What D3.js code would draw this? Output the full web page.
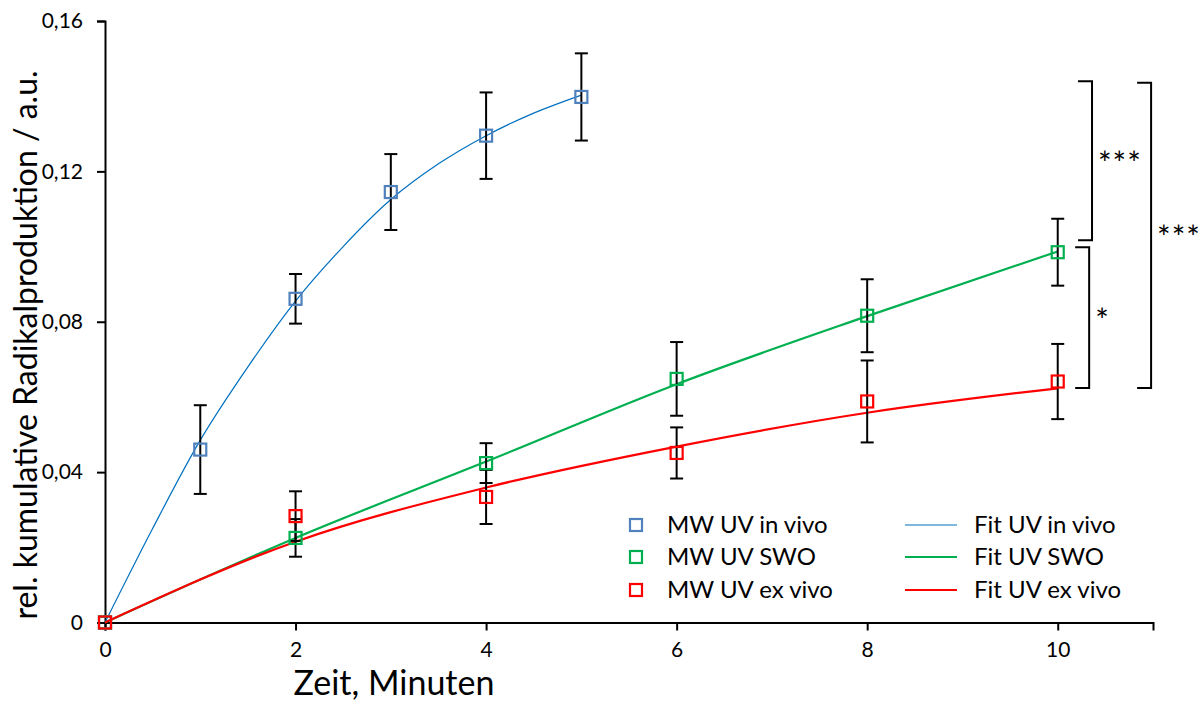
<!DOCTYPE html>
<html>
<head>
<meta charset="utf-8">
<script src="https://d3js.org/d3.v7.min.js"></script>
<style>
  body { margin: 0; background: #fff; }
  text { font-family: Lato, "Liberation Sans", sans-serif; fill: #000; }
</style>
</head>
<body>
<script>
var invivoT = [0, 1, 2, 3, 4, 5];
var invivoY = [0, 0.0460, 0.0861, 0.1145, 0.1295, 0.1398];
var invivoErr = [0, 0.0118, 0.0066, 0.0101, 0.0115, 0.0116];

var swoT = [0, 2, 4, 6, 8, 10];
var swoY = [0, 0.0225, 0.0424, 0.0648, 0.0816, 0.0985];
var swoErr = [0, 0.0050, 0.0053, 0.0098, 0.0097, 0.0089];

var exvivoT = [0, 2, 4, 6, 8, 10];
var exvivoY = [0, 0.0283, 0.0334, 0.0451, 0.0588, 0.0641];
var exvivoErr = [0, 0.0066, 0.0072, 0.0068, 0.0109, 0.0100];

// fit curves
var fitInvivoT = [0, 0.5, 1, 1.5, 2, 2.5, 3, 3.5, 4, 4.5, 5];
var fitInvivoY = [0, 0.0250, 0.0485, 0.0680, 0.0855, 0.1000, 0.1125, 0.1220, 0.1295, 0.1355, 0.1403];
var fitSwoT = [0, 2, 4, 6, 8, 10];
var fitSwoY = [0, 0.0225, 0.0428, 0.0634, 0.0815, 0.0987];
var fitExvivoT = [0, 2, 4, 6, 8, 10];
var fitExvivoY = [0, 0.0215, 0.0359, 0.0468, 0.0558, 0.0623];

var xTicks = [0, 2, 4, 6, 8, 10];
var yTicks = [0, 0.04, 0.08, 0.12, 0.16];
var yTickLabels = ["0", "0,04", "0,08", "0,12", "0,16"];

var markerLabels = ["MW UV in vivo", "MW UV SWO", "MW UV ex vivo"];
var fitLabels = ["Fit UV in vivo", "Fit UV SWO", "Fit UV ex vivo"];
var markerColors = ["#4F81BD", "#00B050", "#FF0000"];
var fitColors = ["#0070C0", "#00B050", "#FF0000"];
var fitWidths = [1.2, 2.2, 2.2];

// significance brackets: [top, bottom] in data units, label
var brackets = [
  {top: 0.1440, bottom: 0.1017, x: 10.36, label: "***"},
  {top: 0.0998, bottom: 0.0624, x: 10.33, label: "*"},
  {top: 0.1436, bottom: 0.0624, x: 10.98, label: "***"}
];

var w = 1202, h = 702;
var svg = d3.select("body").append("svg")
    .attr("width", w)
    .attr("height", h);

var x = d3.scaleLinear().domain([0, 11]).range([105, 1153]);
var y = d3.scaleLinear().domain([0, 0.16]).range([622.5, 21]);

// axes
var xAxis = svg.append("g")
    .attr("transform", "translate(0," + y(0) + ")")
    .call(d3.axisBottom(x).tickValues(xTicks).tickSize(8).tickPadding(12).tickFormat(d3.format("d")));
var yAxis = svg.append("g")
    .attr("transform", "translate(" + x(0) + ",0)")
    .call(d3.axisLeft(y).tickValues(yTicks).tickSize(8).tickPadding(14)
      .tickFormat(function(d, i) { return yTickLabels[i]; }));
[xAxis, yAxis].forEach(function(g) {
  g.select(".domain").attr("stroke", "#000").attr("stroke-width", 2);
  g.selectAll(".tick line").attr("stroke", "#000").attr("stroke-width", 2);
  g.selectAll(".tick text").attr("font-family", "Lato").attr("font-size", 21).attr("fill", "#000");
});

// axis titles
svg.append("text")
    .attr("x", 394).attr("y", 695)
    .attr("text-anchor", "middle")
    .attr("font-size", 34)
    .text("Zeit, Minuten");
svg.append("text")
    .attr("transform", "translate(37," + 345 + ") rotate(-90)")
    .attr("text-anchor", "middle")
    .attr("font-size", 32)
    .text("rel. kumulative Radikalproduktion / a.u.");

// fit lines
var line = d3.line()
    .x(function(d) { return x(d[0]); })
    .y(function(d) { return y(d[1]); })
    .curve(d3.curveMonotoneX);
var fits = [
  d3.zip(fitInvivoT, fitInvivoY),
  d3.zip(fitSwoT, fitSwoY),
  d3.zip(fitExvivoT, fitExvivoY)
];
fits.forEach(function(pts, i) {
  svg.append("path")
      .datum(pts)
      .attr("d", line)
      .attr("fill", "none")
      .attr("stroke", fitColors[i])
      .attr("stroke-width", fitWidths[i]);
});

// error bars + markers
var series = [
  {t: invivoT, v: invivoY, e: invivoErr},
  {t: swoT, v: swoY, e: swoErr},
  {t: exvivoT, v: exvivoY, e: exvivoErr}
];
var cap = 6.5;
series.forEach(function(s, si) {
  var pts = s.t.map(function(t, i) { return {t: t, v: s.v[i], e: s.e[i]}; })
      .filter(function(d) { return d.e > 0; });
  var g = svg.append("g").attr("stroke", "#000").attr("stroke-width", 2);
  g.selectAll("line.v").data(pts).enter().append("line")
      .attr("x1", function(d) { return x(d.t); })
      .attr("x2", function(d) { return x(d.t); })
      .attr("y1", function(d) { return y(d.v + d.e); })
      .attr("y2", function(d) { return y(d.v - d.e); });
  [1, -1].forEach(function(sign) {
    g.selectAll(null).data(pts).enter().append("line")
        .attr("x1", function(d) { return x(d.t) - cap; })
        .attr("x2", function(d) { return x(d.t) + cap; })
        .attr("y1", function(d) { return y(d.v + sign * d.e); })
        .attr("y2", function(d) { return y(d.v + sign * d.e); });
  });
});
series.forEach(function(s, si) {
  svg.append("g").selectAll("rect")
      .data(s.t.map(function(t, i) { return [t, s.v[i]]; }))
      .enter().append("rect")
      .attr("x", function(d) { return x(d[0]) - 6; })
      .attr("y", function(d) { return y(d[1]) - 6; })
      .attr("width", 12).attr("height", 12)
      .attr("fill", "none")
      .attr("stroke", markerColors[si])
      .attr("stroke-width", 2.2);
});

// legend
var legRows = [525, 557, 590];
markerLabels.forEach(function(lab, i) {
  svg.append("rect")
      .attr("x", 630).attr("y", legRows[i] - 6)
      .attr("width", 12).attr("height", 12)
      .attr("fill", "none").attr("stroke", markerColors[i]).attr("stroke-width", 2.2);
  svg.append("text")
      .attr("x", 667).attr("y", legRows[i]).attr("dy", "0.35em")
      .attr("font-size", 24).text(lab);
  svg.append("line")
      .attr("x1", 905).attr("x2", 957)
      .attr("y1", legRows[i]).attr("y2", legRows[i])
      .attr("stroke", fitColors[i]).attr("stroke-width", fitWidths[i]);
  svg.append("text")
      .attr("x", 974).attr("y", legRows[i]).attr("dy", "0.35em")
      .attr("font-size", 24).text(fitLabels[i]);
});

// significance brackets
brackets.forEach(function(b) {
  var bx = x(b.x);
  svg.append("path")
      .attr("d", "M" + (bx - 14) + "," + y(b.top) + "H" + bx + "V" + y(b.bottom) + "H" + (bx - 14))
      .attr("fill", "none").attr("stroke", "#000").attr("stroke-width", 2);
  svg.append("text")
      .attr("x", bx + 6)
      .attr("y", (y(b.top) + y(b.bottom)) / 2 + 14)
      .attr("font-size", 32)
      .attr("letter-spacing", 1)
      .text(b.label);
});
</script>
</body>
</html>
